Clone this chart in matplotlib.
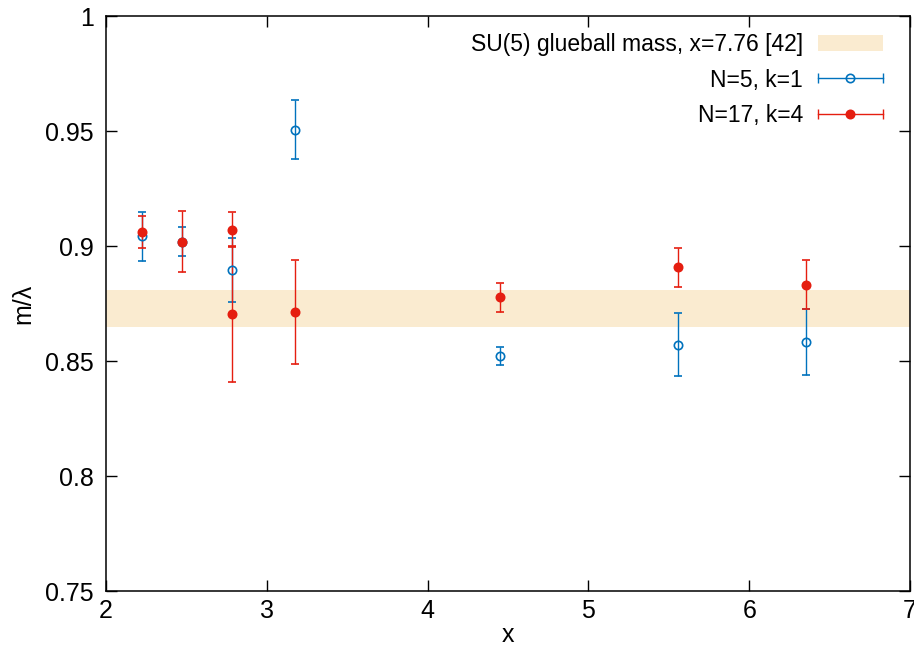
import matplotlib
matplotlib.use("Agg")
import matplotlib.pyplot as plt
from matplotlib.lines import Line2D
from matplotlib.legend_handler import HandlerBase

plt.rcParams['font.family'] = ['Liberation Sans', 'DejaVu Sans']

# N=5, k=1
x_n5 = [2.226, 2.473, 2.782, 3.177, 4.448, 5.559, 6.355]
m_n5 = [0.9043, 0.9020, 0.8896, 0.9507, 0.8522, 0.8571, 0.8583]
err_n5 = [0.0107, 0.0065, 0.0141, 0.0127, 0.0041, 0.0136, 0.0144]

# N=17, k=4
x_n17 = [2.226, 2.473, 2.782, 2.782, 3.177, 4.448, 5.559, 6.355]
m_n17 = [0.9062, 0.9020, 0.9072, 0.8703, 0.8712, 0.8777, 0.8907, 0.8833]
err_n17 = [0.0070, 0.0132, 0.0078, 0.0296, 0.0226, 0.0063, 0.0085, 0.0105]

# SU(5) glueball band
band_lo = 0.8648
band_hi = 0.8809

blue = '#0072bd'
red = '#e51e10'
band_color = '#faebd0'


class HErrHandler(HandlerBase):
    # gnuplot style legend sample: horizontal bar with end caps, point in middle
    def __init__(self, color, filled):
        super().__init__()
        self.color = color
        self.filled = filled

    def create_artists(self, legend, orig_handle, xdescent, ydescent,
                       width, height, fontsize, trans):
        y = (height - ydescent) / 2
        x0, x1 = -xdescent, -xdescent + width
        bar = Line2D([x0, x1], [y, y], color=self.color, lw=1.0)
        caps = Line2D([x0, x1], [y, y], ls='none', marker='|', ms=7,
                      mew=1.0, color=self.color)
        pt = Line2D([(x0 + x1) / 2], [y], ls='none', marker='o', ms=6,
                    mew=1.2, color=self.color,
                    mfc=self.color if self.filled else 'none')
        for a in (bar, caps, pt):
            a.set_transform(trans)
        return [bar, caps, pt]


fig = plt.figure(figsize=(9.14, 6.46), dpi=100)
ax = fig.add_axes([0.116, 0.0851, 0.8796, 0.8899])

band = ax.axhspan(band_lo, band_hi, color=band_color, lw=0,
                  label='SU(5) glueball mass, x=7.76 [42]')
e5 = ax.errorbar(x_n5, m_n5, yerr=err_n5, fmt='o', color=blue, mfc='none',
                 ms=6, mew=1.2, elinewidth=1.0, capsize=3, capthick=1.0,
                 label='N=5, k=1')
e17 = ax.errorbar(x_n17, m_n17, yerr=err_n17, fmt='o', color=red,
                  ms=6, mew=1.2, elinewidth=1.0, capsize=3, capthick=1.0,
                  label='N=17, k=4')

ax.set_xlim(2, 7)
ax.set_ylim(0.75, 1.0)
ax.set_xticks([2, 3, 4, 5, 6, 7])
ax.set_yticks([0.75, 0.8, 0.85, 0.9, 0.95, 1.0])
ax.set_yticklabels(['0.75', '0.8', '0.85', '0.9', '0.95', '1'])
ax.tick_params(direction='in', top=True, right=True, length=8, width=1,
               labelsize=18)
ax.tick_params(axis='y', pad=9)
ax.tick_params(axis='x', pad=6)
for s in ax.spines.values():
    s.set_linewidth(1.1)

ax.set_xlabel('x', fontsize=18, labelpad=0)
ax.set_ylabel('m/λ', fontsize=18, labelpad=7)

ax.legend([band, e5, e17],
          ['SU(5) glueball mass, x=7.76 [42]', 'N=5, k=1', 'N=17, k=4'],
          handler_map={e5: HErrHandler(blue, False),
                       e17: HErrHandler(red, True)},
          loc='upper right', bbox_to_anchor=(0.9776, 0.986),
          markerfirst=False, frameon=False, fontsize=16.5,
          handlelength=2.83, handleheight=0.7, handletextpad=0.65,
          labelspacing=0.53, borderaxespad=0, borderpad=0.4)

fig.savefig('out.png', dpi=100)
